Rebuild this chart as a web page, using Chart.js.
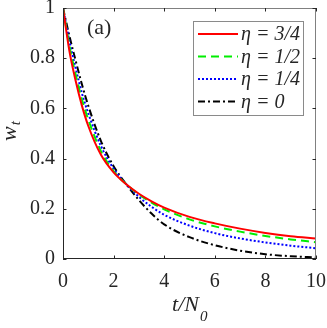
<!DOCTYPE html>
<html>
<head>
<meta charset="utf-8">
<script src="https://cdn.jsdelivr.net/npm/chart.js@4.4.1/dist/chart.umd.min.js"></script>
<style>
  body { margin: 0; background: #fff; }
  canvas { display: block; }
</style>
</head>
<body>
<canvas id="myChart" width="327" height="328"></canvas>
<script>
// data
const tValues = [0, 0.25, 0.5, 0.75, 1, 1.5, 2, 2.5, 3, 3.5, 4, 5, 6, 7, 8, 9, 10];
const wEta34 = [1, 0.83, 0.71, 0.61, 0.53, 0.415, 0.345, 0.298, 0.26, 0.23, 0.205, 0.168, 0.142, 0.121, 0.104, 0.091, 0.082];
const wEta12 = [1, 0.85, 0.735, 0.635, 0.555, 0.43, 0.35, 0.298, 0.257, 0.225, 0.198, 0.158, 0.13, 0.109, 0.092, 0.078, 0.067];
const wEta14 = [1, 0.87, 0.76, 0.66, 0.58, 0.45, 0.36, 0.298, 0.248, 0.208, 0.176, 0.133, 0.103, 0.082, 0.066, 0.053, 0.043];
const wEta0 = [1, 0.89, 0.79, 0.695, 0.61, 0.47, 0.37, 0.298, 0.235, 0.181, 0.138, 0.087, 0.055, 0.033, 0.019, 0.011, 0.006];

const seriesLabels = ['η = 3/4', 'η = 1/2', 'η = 1/4', 'η = 0'];
const xTickLabels = ['0', '2', '4', '6', '8', '10'];
const yTickLabels = ['0', '0.2', '0.4', '0.6', '0.8', '1'];

const axisColor = '#262626';
const serif = "'Liberation Serif', 'Times New Roman', serif";
Chart.defaults.font.family = serif;

function toPoints(arr) {
    return tValues.map((t, i) => ({ x: t, y: arr[i] }));
}

// box, inward ticks, legend and labels drawn on top (matlab look)
const framePlugin = {
    id: 'frame',
    afterDatasetsDraw(chart) {
        const ctx = chart.ctx;
        const a = chart.chartArea;
        const xs = chart.scales.x;
        const ys = chart.scales.y;
        ctx.save();

        // box
        ctx.lineWidth = 1;
        ctx.strokeStyle = '#808080';
        ctx.beginPath();
        ctx.moveTo(a.left, a.top + 0.5);
        ctx.lineTo(a.right - 0.5, a.top + 0.5);
        ctx.lineTo(a.right - 0.5, a.bottom);
        ctx.stroke();
        ctx.strokeStyle = axisColor;
        ctx.beginPath();
        ctx.moveTo(a.left + 0.5, a.top);
        ctx.lineTo(a.left + 0.5, a.bottom - 0.5);
        ctx.lineTo(a.right, a.bottom - 0.5);
        ctx.stroke();

        // inward ticks
        const tl = 3.5;
        ctx.beginPath();
        xs.ticks.forEach(tk => {
            const px = Math.round(xs.getPixelForValue(tk.value)) + 0.5;
            ctx.moveTo(px, a.bottom);
            ctx.lineTo(px, a.bottom - tl);
            ctx.moveTo(px, a.top);
            ctx.lineTo(px, a.top + tl);
        });
        ys.ticks.forEach(tk => {
            const py = Math.round(ys.getPixelForValue(tk.value)) + 0.5;
            ctx.moveTo(a.left, py);
            ctx.lineTo(a.left + tl, py);
            ctx.moveTo(a.right, py);
            ctx.lineTo(a.right - tl, py);
        });
        ctx.stroke();

        // legend
        const lx = 193, ly = 21, lw = 110, lh = 94;
        ctx.fillStyle = '#fff';
        ctx.fillRect(lx, ly, lw, lh);
        ctx.strokeStyle = '#8a8a8a';
        ctx.strokeRect(lx + 0.5, ly + 0.5, lw, lh);
        chart.data.datasets.forEach((ds, i) => {
            const y = ly + 13 + i * 22.5;
            ctx.strokeStyle = ds.borderColor;
            ctx.lineWidth = ds.borderWidth;
            ctx.setLineDash(ds.borderDash || []);
            ctx.beginPath();
            ctx.moveTo(lx + 5, y);
            ctx.lineTo(lx + 45, y);
            ctx.stroke();
            ctx.setLineDash([]);
            ctx.fillStyle = axisColor;
            ctx.font = 'italic 20px ' + serif;
            ctx.textBaseline = 'middle';
            ctx.textAlign = 'left';
            ctx.fillText(ds.label, lx + 48, y + 1);
        });

        // panel label
        ctx.fillStyle = axisColor;
        ctx.font = '22px ' + serif;
        ctx.textBaseline = 'alphabetic';
        ctx.fillText('(a)', 87, 34);

        // x title t/N0
        ctx.font = 'italic 22px ' + serif;
        const main = 't/N';
        const mw = ctx.measureText(main).width;
        const xc = (a.left + a.right) / 2;
        ctx.fillText(main, xc - mw / 2 - 4, 311);
        ctx.font = 'italic 15px ' + serif;
        ctx.fillText('0', xc + mw / 2 - 3, 321);

        // y title w_t
        ctx.save();
        ctx.translate(16, 141);
        ctx.rotate(-Math.PI / 2);
        ctx.font = 'italic 22px ' + serif;
        ctx.fillText('w', 0, 0);
        const ww = ctx.measureText('w').width;
        ctx.font = 'italic 15px ' + serif;
        ctx.fillText('t', ww + 1, 4);
        ctx.restore();

        ctx.restore();
    }
};

const ctx = document.getElementById('myChart').getContext('2d');
const myChart = new Chart(ctx, {
    type: 'line',
    data: {
        datasets: [
            { label: seriesLabels[0], data: toPoints(wEta34), borderColor: '#ff0000', borderWidth: 2 },
            { label: seriesLabels[1], data: toPoints(wEta12), borderColor: '#00ee00', borderWidth: 2, borderDash: [8, 5] },
            { label: seriesLabels[2], data: toPoints(wEta14), borderColor: '#0000ff', borderWidth: 2, borderDash: [2, 2] },
            { label: seriesLabels[3], data: toPoints(wEta0), borderColor: '#000000', borderWidth: 2, borderDash: [7, 3, 2, 3] }
        ]
    },
    options: {
        responsive: false,
        animation: false,
        layout: { padding: { left: 0, right: 11, top: 8, bottom: 0 } },
        elements: {
            point: { radius: 0 },
            line: { cubicInterpolationMode: 'monotone', fill: false }
        },
        plugins: {
            legend: { display: false },
            tooltip: { enabled: false }
        },
        scales: {
            x: {
                type: 'linear',
                min: 0,
                max: 10,
                grid: { display: false, drawTicks: false },
                border: { display: false },
                ticks: {
                    stepSize: 2,
                    padding: 11,
                    autoSkip: false,
                    maxRotation: 0,
                    color: axisColor,
                    font: { size: 20 },
                    callback: (v, i) => xTickLabels[i]
                },
                afterFit: s => { s.height = 69; s.paddingLeft = 0; s.paddingRight = 0; }
            },
            y: {
                min: 0,
                max: 1,
                grid: { display: false, drawTicks: false },
                border: { display: false },
                ticks: {
                    stepSize: 0.2,
                    padding: 8,
                    autoSkip: false,
                    color: axisColor,
                    font: { size: 20 },
                    callback: (v, i) => yTickLabels[i]
                },
                afterFit: s => { s.width = 63; s.paddingTop = 0; s.paddingBottom = 0; }
            }
        }
    },
    plugins: [framePlugin]
});
</script>
</body>
</html>
